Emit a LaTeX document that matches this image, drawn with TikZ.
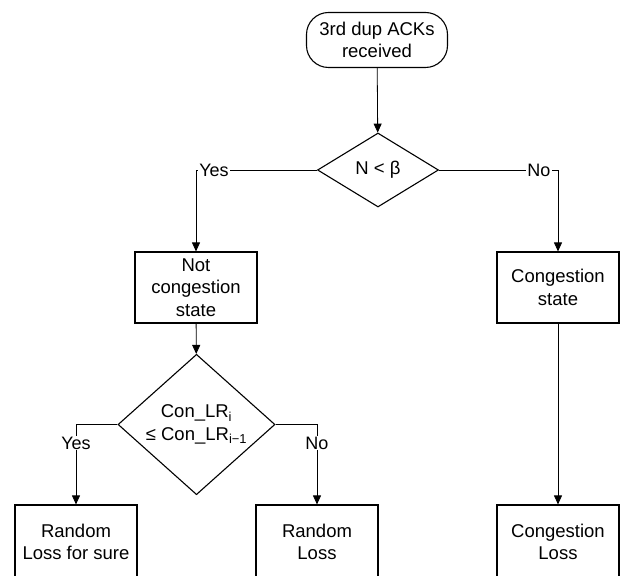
\documentclass[tikz,border=0pt]{standalone}
\usepackage{fontspec}
\setmainfont{Liberation Sans}
\usetikzlibrary{shapes.geometric,arrows.meta}
\begin{document}
\begin{tikzpicture}[x=1pt,y=1pt,
  every node/.style={font=\fontsize{18.5}{22.5}\selectfont, align=center},
  box/.style={draw, line width=1.1pt, minimum width=122pt, minimum height=71pt, inner sep=0pt},
  lastbox/.style={box, minimum height=74pt},
  dec/.style={draw, diamond, line width=1.1pt, inner sep=0pt},
  startbox/.style={draw, rectangle, rounded corners=22pt, line width=1.1pt, minimum width=141pt, minimum height=55pt, inner sep=0pt},
  conn/.style={line width=0.8pt, -{Triangle[length=9pt,width=8pt]}},
  lab/.style={fill=white, inner sep=1pt, font=\fontsize{18}{20}\selectfont}]
\useasboundingbox (0,0) rectangle (625,576);
\clip (0,0) rectangle (625,576);
\node[startbox] (start) at (377,536) {3rd dup ACKs\\received};
\node[dec, minimum width=121pt, minimum height=74pt] (d1) at (378,406) {N < β};
\node[box] (nc) at (196,288.5) {Not\\congestion\\state};
\node[box] (cs) at (558,288.5) {Congestion\\state};
\node[dec, minimum width=157pt, minimum height=95pt] (d2) at (196.5,151.5) {Con\_LR\textsubscript{i}\\≤ Con\_LR\textsubscript{i−1}};
\node[lastbox] (rl1) at (76,34) {Random\\Loss for sure};
\node[lastbox] (rl2) at (317,34) {Random\\Loss};
\node[lastbox] (cl) at (558,34) {Congestion\\Loss};
\draw[conn] (start) -- (d1);
\draw[conn] (d1.west) -| (nc.north);
\draw[conn] (d1.east) -| (cs.north);
\draw[conn] (nc) -- (d2);
\draw[conn] (d2.west) -| (rl1.north);
\draw[conn] (d2.east) -| (rl2.north);
\draw[conn] (cs) -- (cl);
\node[lab] (y1) at (214,406) {Yes};
\node[lab] (n1) at (539,406) {No};
\node[lab] (y2) at (76,133) {Yes};
\node[lab] (n2) at (317,133) {No};
\end{tikzpicture}
\end{document}
